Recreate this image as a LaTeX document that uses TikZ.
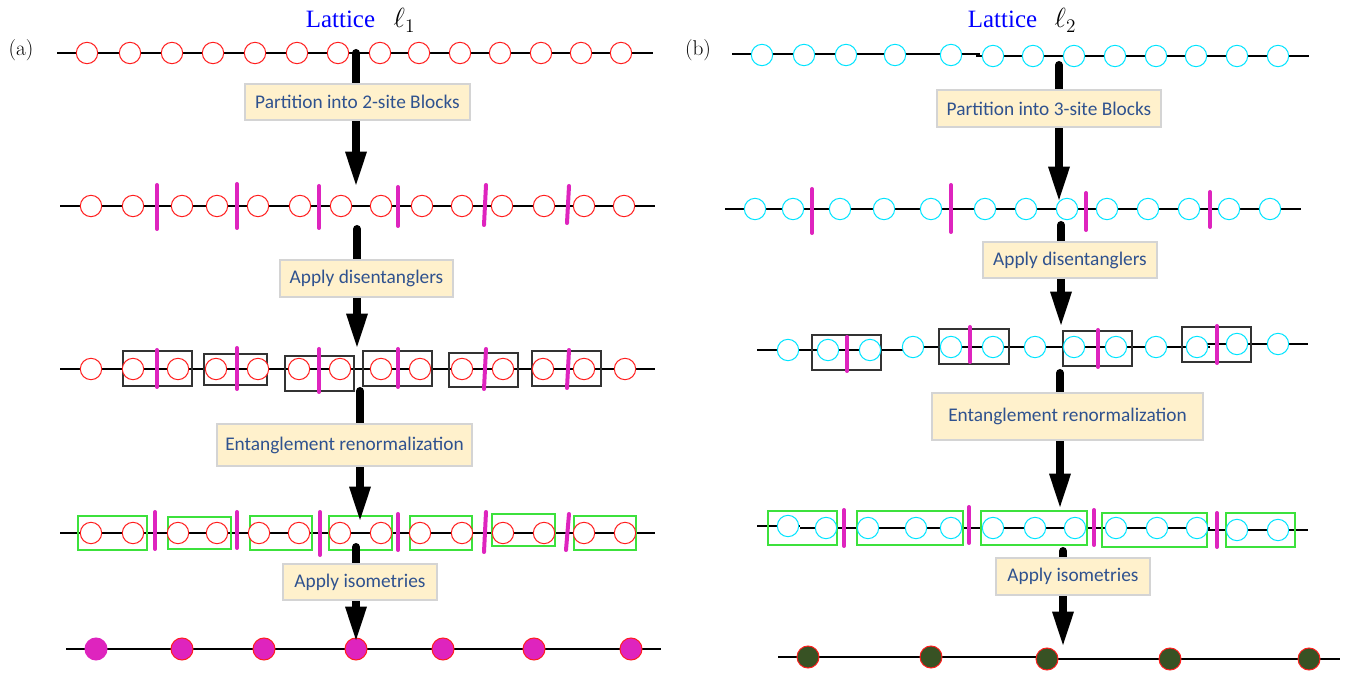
\RequirePackage{fix-cm}
\documentclass[tikz,border=0pt]{standalone}
\usepackage{fontspec}
\newfontfamily\boxfont{Carlito}
\newfontfamily\timesf{Liberation Serif}
\usetikzlibrary{arrows.meta}
\definecolor{cRed}{RGB}{255,30,30}
\definecolor{cCyan}{RGB}{0,228,255}
\definecolor{cMag}{RGB}{222,36,190}
\definecolor{cGreen}{RGB}{60,225,60}
\definecolor{cDkGreen}{RGB}{56,82,36}
\definecolor{cBoxFill}{RGB}{255,241,204}
\definecolor{cBoxLine}{RGB}{212,212,212}
\definecolor{cText}{RGB}{47,82,143}
\tikzset{
  rowline/.style={line width=1.1pt, black},
  rc/.style={circle, draw=cRed, fill=white, line width=0.75pt, minimum size=16pt, inner sep=0pt},
  cc/.style={rc, draw=cCyan},
  bar/.style={draw=cMag, line width=3pt, line cap=round},
  bbox/.style={draw=black!80, line width=0.8pt},
  gbox/.style={draw=cGreen, line width=0.9pt},
  fillm/.style={circle, fill=cMag, draw=cRed, line width=0.75pt, minimum size=16.5pt, inner sep=0pt},
  filld/.style={fillm, fill=cDkGreen},
  bigarrow/.style={line width=6pt, line cap=round, -{Triangle[width=16.5pt,length=25pt,line width=0pt]}},
  lab/.style={draw=cBoxLine, fill=cBoxFill, line width=0.9pt, text=cText,
    font=\boxfont\fontsize{14.5}{17}\selectfont, inner sep=0pt},
  panel/.style={font=\fontsize{16}{19}\selectfont},
  ttl/.style={anchor=base, text=blue, font=\timesf\fontsize{18.7}{22}\selectfont},
  ell/.style={anchor=base west, font=\fontsize{20.74}{24}\selectfont}
}
\begin{document}
\begin{tikzpicture}[x=0.75pt,y=-0.75pt]
\useasboundingbox (0,0) rectangle (1347,673);

% ---------------- Panel (a) ----------------
\node[panel] (pa) at (21,50) {(a)};
\node[ttl] (ta) at (340.5,28) {Lattice};
\node[ell] (tal) at (389,28) {$\ell_1$};

% row 1
\coordinate (a1L) at (57,53); \coordinate (a1R) at (653,53);
\draw[rowline] (a1L) -- (a1R);
\foreach \x [count=\i] in {87,130,172,213,255,297,338,380,419,460,500,541,581,621}
  \node[rc] (a1-\i) at (\x,53) {};

% row 2
\coordinate (a2L) at (60,206); \coordinate (a2R) at (655,206);
\draw[rowline] (a2L) -- (a2R);
\foreach \x [count=\i] in {91,133,182,217,258,300,341,381,422,462,502,544,584,624}
  \node[rc] (a2-\i) at (\x,206) {};
\foreach \xa/\ya/\xb/\yb in {157/185/157/229,237/184/237/228,319/186/319/228,398/187/398/226,486/185/484/225,569/186/567/223}
  \draw[bar] (\xa,\ya) -- (\xb,\yb);

% row 3
\coordinate (a3L) at (60,369); \coordinate (a3R) at (655,369);
\draw[rowline] (a3L) -- (a3R);
\foreach \xa/\ya/\xb/\yb in {123/351/192/386,204/354/267/385,285/356/354/391,363/351/432/386,449/353/518/387,532/351/601/386}
  \draw[bbox] (\xa,\ya) rectangle (\xb,\yb);
\foreach \x [count=\i] in {91,133,178,216,258,299,340,381,420,462,503,543,584,625}
  \node[rc] (a3-\i) at (\x,369) {};
\foreach \xa/\ya/\xb/\yb in {157/350/157/387,237/348/237/389,319/349/319/392,398/349/398/387,486/349/484/389,569/350/567/388}
  \draw[bar] (\xa,\ya) -- (\xb,\yb);

% row 4
\coordinate (a4L) at (60,533); \coordinate (a4R) at (655,533);
\draw[rowline] (a4L) -- (a4R);
\foreach \xa/\ya/\xb/\yb in {78/516/147/550,168/517/231/549,250/516/312/550,329/516/392/550,410/516/472/550,492/514/555/546,574/516/636/550}
  \draw[gbox] (\xa,\ya) rectangle (\xb,\yb);
\foreach \x [count=\i] in {91,133,178,217,259,299,340,381,420,462,503,544,584,625}
  \node[rc] (a4-\i) at (\x,533) {};
\foreach \xa/\ya/\xb/\yb in {155/512/155/549,237/512/237/548,320/512/320/555,398/514/398/550,486/512/484/552,569/514/566/550}
  \draw[bar] (\xa,\ya) -- (\xb,\yb);

% row 5
\coordinate (a5L) at (66,649); \coordinate (a5R) at (661,649);
\draw[rowline] (a5L) -- (a5R);
\node[fillm, draw=cMag] (a5-1) at (96,649) {};
\foreach \x [count=\i from 2] in {182,264,356,443,534,631}
  \node[fillm] (a5-\i) at (\x,649) {};

% arrows (a)
\coordinate (aA1s) at (356,53);  \coordinate (aA1e) at (356,185);
\coordinate (aA2s) at (357,229); \coordinate (aA2e) at (357,347);
\coordinate (aA3s) at (360,391); \coordinate (aA3e) at (360,520);
\coordinate (aA4s) at (356,547); \coordinate (aA4e) at (356,640);
\draw[bigarrow] (aA1s) -- (aA1e);
\draw[bigarrow] (aA2s) -- (aA2e);
\draw[bigarrow] (aA3s) -- (aA3e);
\draw[bigarrow] (aA4s) -- (aA4e);

\node[lab, minimum width=168.75pt, minimum height=27pt] (la1) at (357.5,102) {Partition into 2-site Blocks};
\node[lab, minimum width=129.75pt, minimum height=27.75pt] (la2) at (366.5,278.5) {Apply disentanglers};
\node[lab, minimum width=191.25pt, minimum height=31.5pt] (la3) at (344.5,445) {Entanglement renormalization};
\node[lab, minimum width=115.5pt, minimum height=27pt] (la4) at (360,582) {Apply isometries};

% ---------------- Panel (b) ----------------
\node[panel] (pb) at (698,50) {(b)};
\node[ttl] (tb) at (1002.5,28) {Lattice};
\node[ell] (tbl) at (1050,28) {$\ell_2$};

% row 1
\coordinate (b1L) at (732,54); \coordinate (b1M) at (980,54);
\coordinate (b1N) at (976,56); \coordinate (b1R) at (1309,56);
\draw[rowline] (b1L) -- (b1M);
\draw[rowline] (b1N) -- (b1R);
\foreach \x [count=\i] in {762,804,846,895,951}
  \node[cc] (b1-\i) at (\x,55) {};
\foreach \x [count=\i from 6] in {993,1033,1074,1115,1156,1196,1237,1278}
  \node[cc] (b1-\i) at (\x,56) {};

% row 2
\coordinate (b2L) at (725,209); \coordinate (b2R) at (1301,209);
\draw[rowline] (b2L) -- (b2R);
\foreach \x [count=\i] in {755,793,840,884,931,985,1026,1067,1107,1148,1189,1229,1270}
  \node[cc] (b2-\i) at (\x,209) {};
\foreach \xa/\ya/\xb/\yb in {812/189/812/233,951/185/951/232,1086/193/1086/230,1210/192/1210/227}
  \draw[bar] (\xa,\ya) -- (\xb,\yb);

% row 3
\coordinate (b3L) at (757,350); \coordinate (b3M) at (910,350);
\coordinate (b3N) at (905,347); \coordinate (b3O) at (1210,347);
\coordinate (b3P) at (1205,344); \coordinate (b3R) at (1308,344);
\draw[rowline] (b3L) -- (b3M);
\draw[rowline] (b3N) -- (b3O);
\draw[rowline] (b3P) -- (b3R);
\foreach \xa/\ya/\xb/\yb in {812/335/881/370,939/329/1009/364,1063/331/1132/366,1182/327/1251/362}
  \draw[bbox] (\xa,\ya) rectangle (\xb,\yb);
\foreach \x/\y [count=\i] in {788/350,828/350,870/350,913/347,951/347,993/347,1035/347,1074/347,1116/347,1156/347,1197/347,1237/344,1278/344}
  \node[cc] (b3-\i) at (\x,\y) {};
\foreach \xa/\ya/\xb/\yb in {847/337/847/371,970/327/970/362,1098/330/1098/367,1217/326/1217/363}
  \draw[bar] (\xa,\ya) -- (\xb,\yb);

% row 4
\coordinate (b4L) at (757,526); \coordinate (b4M) at (800,526);
\coordinate (b4N) at (800,528); \coordinate (b4O) at (1210,528);
\coordinate (b4P) at (1205,530); \coordinate (b4R) at (1308,530);
\draw[rowline] (b4L) -- (b4M);
\draw[rowline] (b4N) -- (b4O);
\draw[rowline] (b4P) -- (b4R);
\foreach \xa/\ya/\xb/\yb in {768/511/837/545,857/511/963/545,981/511/1087/545,1102/513/1207/547,1226/513/1295/547}
  \draw[gbox] (\xa,\ya) rectangle (\xb,\yb);
\foreach \x/\y [count=\i] in {788/526,826/528,868/528,916/528,951/528,993/528,1035/528,1075/528,1116/528,1157/528,1197/528,1237/530,1278/530}
  \node[cc] (b4-\i) at (\x,\y) {};
\foreach \xa/\ya/\xb/\yb in {844/510/844/546,969/507/969/543,1094/510/1094/545,1217/513/1217/547}
  \draw[bar] (\xa,\ya) -- (\xb,\yb);

% row 5
\coordinate (b5L) at (778,657); \coordinate (b5M) at (1047,657);
\coordinate (b5N) at (1047,659); \coordinate (b5R) at (1340,659);
\draw[rowline] (b5L) -- (b5M);
\draw[rowline] (b5N) -- (b5R);
\foreach \x/\y [count=\i] in {808/657,931/657,1047/659,1170/659,1309/659}
  \node[filld] (b5-\i) at (\x,\y) {};

% arrows (b)
\coordinate (bA1s) at (1059,65);  \coordinate (bA1e) at (1059,200);
\coordinate (bA2s) at (1061,225); \coordinate (bA2e) at (1061,325);
\coordinate (bA3s) at (1060,373); \coordinate (bA3e) at (1060,507);
\coordinate (bA4s) at (1063,551); \coordinate (bA4e) at (1063,645);
\draw[bigarrow] (bA1s) -- (bA1e);
\draw[bigarrow] (bA2s) -- (bA2e);
\draw[bigarrow] (bA3s) -- (bA3e);
\draw[bigarrow] (bA4s) -- (bA4e);

\node[lab, minimum width=168pt, minimum height=27.75pt] (lb1) at (1049,108.5) {Partition into 3-site Blocks};
\node[lab, minimum width=130.5pt, minimum height=27pt] (lb2) at (1070,260) {Apply disentanglers};
\node[lab, minimum width=203.25pt, minimum height=35.25pt] (lb3) at (1067.5,416.5) {Entanglement renormalization};
\node[lab, minimum width=115.5pt, minimum height=27.75pt] (lb4) at (1073,576.5) {Apply isometries};
\end{tikzpicture}
\end{document}
